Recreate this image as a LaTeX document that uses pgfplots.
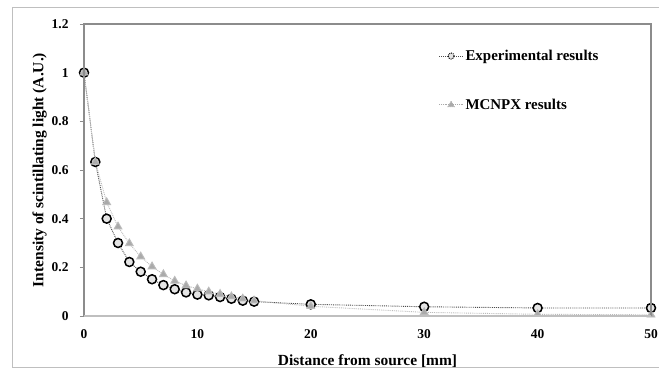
\documentclass[border=0pt]{standalone}
\usepackage{pgfplots}
\pgfplotsset{compat=1.18}
\usepackage{fontspec}
\setmainfont{Liberation Serif}
\definecolor{axgray}{RGB}{140,140,140}
\definecolor{trigray}{RGB}{170,170,170}
\begin{document}
\begin{tikzpicture}
\useasboundingbox (0,0) rectangle (659bp,377bp);
\fill[white] (0,0) rectangle (659bp,377bp);
\draw[black!25, line width=0.8bp] (12bp,10bp) rectangle (700bp,370bp);
\begin{axis}[
  name=ax,
  at={(84bp,61bp)}, anchor=south west,
  scale only axis, width=567bp, height=292bp,
  xmin=0, xmax=50, ymin=0, ymax=1.2,
  xtick={0,10,20,30,40,50},
  ytick={0,0.2,0.4,0.6,0.8,1,1.2},
  yticklabels={0,0.2,0.4,0.6,0.8,1,1.2},
  /pgf/number format/assume math mode=true,
  tick label style={font=\bfseries\fontsize{13.5}{14}\selectfont, text=black},
  xticklabel style={yshift=-6bp},
  yticklabel style={xshift=-8bp},
  axis line style={draw=none},
  major tick length=4bp,
  xtick style={draw=none},
  ytick style={draw=axgray, line width=0.8bp},
  tick align=outside,
  xtick pos=bottom, ytick pos=left,
  xlabel={Distance from source [mm]},
  ylabel={Intensity of scintillating light (A.U.)},
  label style={font=\bfseries\fontsize{15.5}{17}\selectfont},
  xlabel style={yshift=-9bp},
  ylabel style={yshift=-2bp},
  legend style={draw=none, fill=none, at={(0.62,0.925)}, anchor=north west,
    font=\bfseries\fontsize{15}{17}\selectfont, row sep=33bp},
  legend cell align=left,
]
\addplot[densely dotted, black!70, line width=0.9bp,
  mark=*, mark size=4.5bp,
  mark options={solid, draw=black, line width=1.5bp, fill=black!10},
  legend image code/.code={
    \draw[black!70, line width=0.8bp] (0bp,0bp) -- (24bp,0bp);
    \draw[black, line width=1bp, fill=black!10] (12bp,0bp) circle (3bp);}]
  coordinates {
  (0,1.0) (1,0.633) (2,0.40) (3,0.30) (4,0.222) (5,0.182) (6,0.151) (7,0.127)
  (8,0.11) (9,0.097) (10,0.088) (11,0.085) (12,0.078) (13,0.071) (14,0.063)
  (15,0.059) (20,0.048) (30,0.038) (40,0.033) (50,0.033)};
\addlegendentry{Experimental results}
\addplot[densely dotted, trigray!80, line width=0.9bp,
  mark=triangle*, mark size=4.5bp,
  mark options={solid, draw=none, fill=trigray},
  legend image code/.code={
    \draw[trigray, densely dotted, line width=0.8bp] (0bp,0bp) -- (24bp,0bp);
    \fill[trigray] (12bp,0bp) ++(90:3.5bp) -- ++(-120:6bp) -- ++(0:6bp) -- cycle;}]
  coordinates {
  (0,1.0) (1,0.633) (2,0.467) (3,0.367) (4,0.298) (5,0.244) (6,0.203) (7,0.171)
  (8,0.144) (9,0.125) (10,0.112) (11,0.10) (12,0.09) (13,0.08) (14,0.071)
  (15,0.063) (20,0.040) (30,0.015) (40,0.007) (50,0.005)};
\addlegendentry{MCNPX results}
\end{axis}
\draw[axgray, line width=1.2bp] (ax.south west) -- (ax.north west) -- (ax.north east) -- (ax.south east);
\draw[black!25, line width=1.8bp] (ax.south west) -- (ax.south east);
\end{tikzpicture}
\end{document}
